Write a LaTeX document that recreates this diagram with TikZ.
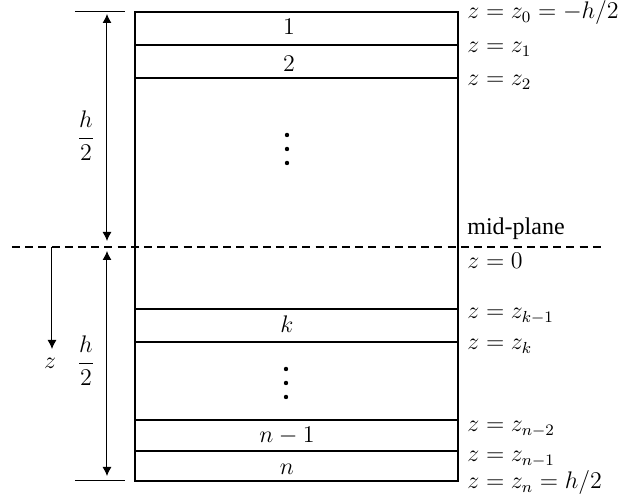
\documentclass[tikz,border=0pt]{standalone}
\usepackage{fontspec}
\newfontfamily\tnr{Liberation Serif}
\usetikzlibrary{arrows.meta}
\begin{document}
\begin{tikzpicture}[x=0.5pt,y=-0.5pt,
  box/.style={line width=0.65pt},
  layer/.style={line width=1.2pt},
  midline/.style={line width=0.65pt,dash pattern=on 4pt off 2.6pt},
  dimarrow/.style={line width=0.5pt,{Latex[length=4.5pt,width=4.5pt]}-{Latex[length=4.5pt,width=4.5pt]}},
  zarrow/.style={line width=0.5pt,-{Latex[length=4.5pt,width=4.5pt]}},
  tick/.style={line width=0.5pt},
  lab/.style={anchor=base west,inner sep=0pt,font=\fontsize{11.5}{13}\selectfont},
  num/.style={anchor=base,inner sep=0pt,font=\fontsize{11.5}{13}\selectfont},
  dot/.style={fill=black,draw=none,circle,minimum size=2.2pt,inner sep=0pt}]
\useasboundingbox (0,0) rectangle (629,501);
% corners
\coordinate (TL) at (135,12);
\coordinate (TR) at (458,12);
\coordinate (BL) at (135,481);
\coordinate (BR) at (458,481);
% layer interfaces
\foreach \n/\y in {a/45,b/78,c/309,d/342,e/420,f/451}{
  \coordinate (\n L) at (135,\y);
  \coordinate (\n R) at (458,\y);
}
\draw[layer] (aL) -- (aR);
\draw[layer] (bL) -- (bR);
\draw[layer] (cL) -- (cR);
\draw[layer] (dL) -- (dR);
\draw[layer] (eL) -- (eR);
\draw[layer] (fL) -- (fR);
\draw[box] (TL) -- (TR) -- (BR) -- (BL) -- cycle;
% mid-plane dashed line
\coordinate (ML) at (12,247);
\coordinate (MR) at (604,247);
\draw[midline] (ML) -- (MR);
% ticks
\coordinate (t1a) at (75,12); \coordinate (t1b) at (125,12);
\coordinate (t2a) at (75,481); \coordinate (t2b) at (125,481);
\draw[tick] (t1a) -- (t1b);
\draw[tick] (t2a) -- (t2b);
% dimension arrows
\coordinate (d1a) at (107,14); \coordinate (d1b) at (107,241);
\coordinate (d2a) at (107,251); \coordinate (d2b) at (107,476);
\draw[dimarrow] (d1a) -- (d1b);
\draw[dimarrow] (d2a) -- (d2b);
\node[inner sep=0pt,font=\fontsize{11.5}{13}\selectfont] (h1) at (86,136) {$\displaystyle\frac{h}{2}$};
\node[inner sep=0pt,font=\fontsize{11.5}{13}\selectfont] (h2) at (86,361) {$\displaystyle\frac{h}{2}$};
% z arrow
\coordinate (za) at (52,247); \coordinate (zb) at (52,349);
\draw[zarrow] (za) -- (zb);
\node[inner sep=0pt,font=\fontsize{11.5}{13}\selectfont] (zl) at (50,363) {$z$};
% layer numbers
\node[num] (n1) at (289,35) {$1$};
\node[num] (n2) at (289,72) {$2$};
\node[num] (nk) at (287,333) {$k$};
\node[num] (nn1) at (287,443) {$n-1$};
\node[num] (nn) at (287,475) {$n$};
% dots
\node[dot] (v1) at (287,135) {};
\node[dot] (v2) at (287,149) {};
\node[dot] (v3) at (287,163) {};
\node[dot] (w1) at (286,369) {};
\node[dot] (w2) at (286,383) {};
\node[dot] (w3) at (286,397) {};
% right labels
\node[lab] (r0) at (467,19) {$z=z_0=-h/2$};
\node[lab] (r1) at (467,53) {$z=z_1$};
\node[lab] (r2) at (467,86) {$z=z_2$};
\node[lab,font=\tnr\fontsize{12}{14}\selectfont] (mp) at (467,235) {mid-plane};
\node[lab] (r3) at (467,269) {$z=0$};
\node[lab] (r4) at (467,319) {$z=z_{k-1}$};
\node[lab] (r5) at (467,350) {$z=z_k$};
\node[lab] (r6) at (467,432) {$z=z_{n-2}$};
\node[lab] (r7) at (467,462) {$z=z_{n-1}$};
\node[lab] (r8) at (467,489) {$z=z_n=h/2$};
\end{tikzpicture}
\end{document}
